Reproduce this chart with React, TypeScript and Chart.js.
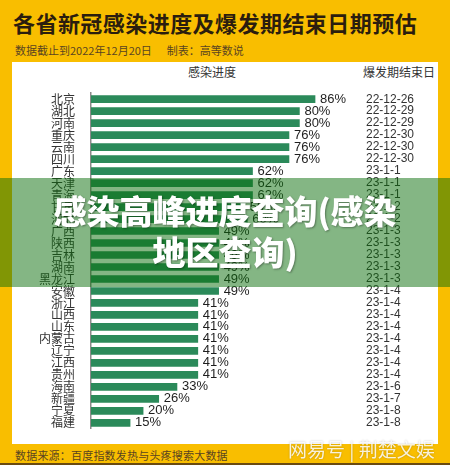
import React, { useEffect, useRef } from "react";
import { Chart, registerables } from "chart.js";

Chart.register(...registerables);

const provinces = [
  "北京", "湖北", "河南", "重庆", "云南", "四川", "广东", "天津", "青海", "甘肃",
  "河北", "广西", "陕西", "吉林", "湖南", "黑龙江", "安徽", "浙江", "山西", "山东",
  "内蒙古", "辽宁", "江西", "贵州", "海南", "新疆", "宁夏", "福建",
];
const progress = [
  86, 80, 80, 76, 76, 76, 62, 62, 62, 59,
  60, 49, 49, 49, 49, 49, 49, 41, 41, 41,
  41, 41, 41, 41, 33, 26, 20, 15,
];
const endDates = [
  "22-12-26", "22-12-29", "22-12-29", "22-12-30", "22-12-30", "22-12-30", "23-1-1", "23-1-1", "23-1-1", "23-1-2",
  "23-1-2", "23-1-3", "23-1-3", "23-1-3", "23-1-3", "23-1-3", "23-1-4", "23-1-4", "23-1-4", "23-1-4",
  "23-1-4", "23-1-4", "23-1-4", "23-1-4", "23-1-6", "23-1-7", "23-1-8", "23-1-8",
];

const CJK = '"Noto Sans CJK SC", "Noto Sans", sans-serif';
const LAT = '"Liberation Sans", Arial, sans-serif';

export default function App() {
  const ref = useRef<HTMLCanvasElement | null>(null);

  useEffect(() => {
    document.body.style.margin = "0";
    const canvas = ref.current;
    if (!canvas) return;
    const labelPlugin = {
      id: "labels",
      afterDatasetsDraw(chart: any) {
        const ctx = chart.ctx;
        const meta = chart.getDatasetMeta(0);
        ctx.save();
        ctx.textBaseline = "middle";
        meta.data.forEach((bar: any, i: number) => {
          ctx.fillStyle = "#1e1e1e";
          ctx.font = `13px ${LAT}`;
          ctx.textAlign = "left";
          ctx.fillText(progress[i] + "%", bar.x + 5, bar.y);
          ctx.fillStyle = "#333";
          ctx.font = `12px ${LAT}`;
          ctx.fillText(endDates[i], chart.chartArea.right + 14.5, bar.y);
        });
        ctx.restore();
      },
    };
    const chart = new Chart(canvas, {
      type: "bar",
      data: {
        labels: provinces,
        datasets: [
          {
            data: progress,
            backgroundColor: "#2b8a5a",
            barThickness: 7,
          },
        ],
      },
      options: {
        indexAxis: "y",
        animation: false,
        responsive: false,
        maintainAspectRatio: false,
        layout: { padding: { top: 3.5, bottom: 0.5, left: 0, right: 86.5 } },
        plugins: { legend: { display: false }, tooltip: { enabled: false } },
        scales: {
          x: { display: false, min: 0, max: 100 },
          y: {
            grid: { display: false },
            border: { display: true, color: "#8a8a8a", width: 1.5 },
            ticks: {
              autoSkip: false,
              padding: 8,
              color: "#333",
              font: { family: CJK, size: 12 },
            },
            afterFit: (s: any) => {
              s.width = 79;
            },
          },
        },
      },
      plugins: [labelPlugin],
    } as any);
    return () => chart.destroy();
  }, []);

  return (
    <div
      style={{
        position: "relative",
        width: 450,
        height: 465,
        background: "#f9be00",
        overflow: "hidden",
        fontFamily: CJK,
      }}
    >
      <div
        style={{
          position: "absolute",
          left: 13,
          top: 6,
          fontSize: 22,
          fontWeight: 700,
          letterSpacing: 0.45,
          color: "#2b1d0e",
          lineHeight: "32px",
          whiteSpace: "nowrap",
        }}
      >
        各省新冠感染进度及爆发期结束日期预估
      </div>
      <div
        style={{
          position: "absolute",
          left: 15,
          top: 42,
          fontSize: 11,
          color: "#5a4420",
          lineHeight: "16px",
          whiteSpace: "nowrap",
        }}
      >
        数据截止到2022年12月20日<span style={{ marginLeft: 15 }}>制表：高等数说</span>
      </div>
      <div
        style={{
          position: "absolute",
          left: 12,
          top: 62,
          width: 426,
          height: 382,
          background: "#ffffff",
        }}
      />
      <div
        style={{
          position: "absolute",
          left: 188,
          top: 64,
          fontSize: 12,
          color: "#333",
          lineHeight: "16px",
          whiteSpace: "nowrap",
        }}
      >
        感染进度
      </div>
      <div
        style={{
          position: "absolute",
          left: 363,
          top: 64,
          fontSize: 12,
          color: "#333",
          lineHeight: "16px",
          whiteSpace: "nowrap",
        }}
      >
        爆发期结束日
      </div>
      <canvas
        ref={ref}
        width={426}
        height={366}
        style={{ position: "absolute", left: 12, top: 78, width: 426, height: 366 }}
      />
      <div
        style={{
          position: "absolute",
          left: 15,
          top: 447,
          fontSize: 11,
          letterSpacing: 0.2,
          color: "#5a4420",
          lineHeight: "16px",
          whiteSpace: "nowrap",
        }}
      >
        数据来源：百度指数发热与头疼搜索大数据
      </div>
      <div
        style={{
          position: "absolute",
          left: 0,
          top: 463,
          width: 450,
          height: 2,
          background: "#6a4a10",
        }}
      />
      <div
        style={{
          position: "absolute",
          left: 288,
          top: 436,
          fontSize: 19,
          color: "rgba(255,255,255,0.85)",
          lineHeight: "26px",
          whiteSpace: "nowrap",
          textShadow: "0 0 2px rgba(0,0,0,0.25)",
        }}
      >
        网易号 | 荆楚文娱
      </div>
      <div
        style={{
          position: "absolute",
          left: 0,
          top: 178,
          width: 450,
          height: 109,
          background: "rgba(10,110,10,0.5)",
        }}
      />
      <div
        style={{
          position: "absolute",
          left: 0,
          top: 190,
          width: 450,
          textAlign: "center",
          color: "#ffffff",
          fontSize: 33,
          fontWeight: 900,
          lineHeight: "41px",
          textShadow: "1px 1px 2px rgba(0,0,0,0.35)",
        }}
      >
        感染高峰进度查询(感染
        <br />
        地区查询)
      </div>
    </div>
  );
}
